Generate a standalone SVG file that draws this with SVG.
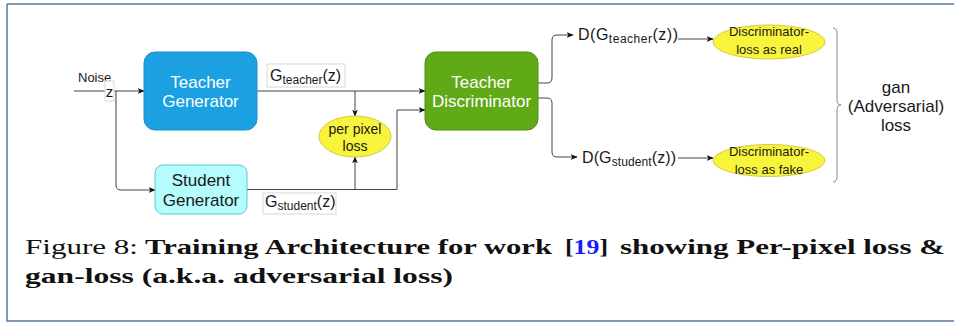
<svg xmlns="http://www.w3.org/2000/svg" width="954" height="324" viewBox="0 0 954 324">
<defs>
<marker id="arr" viewBox="0 0 10 10" refX="9" refY="5" markerWidth="7" markerHeight="7" orient="auto" markerUnits="userSpaceOnUse">
<path d="M0,1 L10,5 L0,9 L2.5,5 Z" fill="#111"/>
</marker>
<style>
.s{font-family:"Liberation Sans",Arial,sans-serif}
.w{fill:#ffffff;font-size:17px;text-anchor:middle}
.d{fill:#1a1a1a}
.c{fill:none;stroke:#444;stroke-width:1}
.lbl{fill:#ffffff;stroke:#d8d8d8;stroke-width:1}
.cap{font-family:"Liberation Serif","Times New Roman",serif;font-size:22px;fill:#111}
.b{font-weight:bold}
</style>
</defs>
<rect x="0" y="0" width="954" height="324" fill="#ffffff"/>
<path d="M7,4 H954 M7,4 V321 H954" fill="none" stroke="#56779a" stroke-width="1.5"/>

<g id="connectors">
<path class="c" d="M74,91 H144" marker-end="url(#arr)"/>
<path class="c" d="M116,91 V185 Q116,190 121,190 H155" marker-end="url(#arr)"/>
<path class="c" d="M257,91 H425" marker-end="url(#arr)"/>
<path class="c" d="M355,91 V116" marker-end="url(#arr)"/>
<path class="c" d="M247,189.5 H397 V110 H425" marker-end="url(#arr)"/>
<path class="c" d="M355,189.5 V157" marker-end="url(#arr)"/>
<path class="c" d="M538,83 H547 Q552,83 552,78 V40 Q552,35 557,35 H573" marker-end="url(#arr)"/>
<path class="c" d="M538,98 H547 Q552,98 552,103 V152 Q552,157 557,157 H577" marker-end="url(#arr)"/>
<path class="c" d="M678,39 H713" marker-end="url(#arr)"/>
<path class="c" d="M678,158 H713" marker-end="url(#arr)"/>
</g>

<g id="noise">
<text class="s d" x="78" y="82" font-size="13" fill="#333">Noise</text>
<rect class="lbl" x="105" y="81" width="9" height="20"/>
<text class="s d" x="109.5" y="97" font-size="15" text-anchor="middle">z</text>
</g>

<g id="teacher-generator">
<rect x="144" y="52" width="113" height="78" rx="11" fill="#1ba1e2" stroke="#1a8fca"/>
<text class="s w" x="200.5" y="88">Teacher</text>
<text class="s w" x="200.5" y="107">Generator</text>
</g>

<g id="student-generator">
<rect x="155" y="165" width="92" height="49" rx="8" fill="#b4fcfd" stroke="#63c8cc"/>
<text class="s d" x="201" y="186" font-size="17" text-anchor="middle">Student</text>
<text class="s d" x="201" y="206" font-size="17" text-anchor="middle">Generator</text>
</g>

<g id="teacher-discriminator">
<rect x="425" y="52" width="113" height="78" rx="11" fill="#60a917" stroke="#4d8f10"/>
<text class="s w" x="481.5" y="88">Teacher</text>
<text class="s w" x="481.5" y="107">Discriminator</text>
</g>

<g id="gteacher-label">
<rect class="lbl" x="267" y="64" width="78" height="23"/>
<text class="s d" x="270" y="81" font-size="16">G<tspan font-size="12" dy="3">teacher</tspan><tspan dy="-3">(z)</tspan></text>
</g>

<g id="gstudent-label">
<rect class="lbl" x="263" y="193" width="73" height="21"/>
<text class="s d" x="265" y="207" font-size="16">G<tspan font-size="12" dy="3">student</tspan><tspan dy="-3">(z)</tspan></text>
</g>

<g id="per-pixel-loss">
<ellipse cx="355" cy="136.5" rx="36" ry="20.5" fill="#f8f43c" stroke="#d6c94a"/>
<text class="s d" x="355" y="134" font-size="14" text-anchor="middle" fill="#333">per pixel</text>
<text class="s d" x="355" y="151" font-size="14" text-anchor="middle" fill="#333">loss</text>
</g>

<g id="d-teacher">
<text class="s d" x="578" y="40" font-size="16" textLength="100">D(G<tspan font-size="12" dy="3">teacher</tspan><tspan dy="-3">(z))</tspan></text>
</g>

<g id="d-student">
<text class="s d" x="582" y="163" font-size="16" textLength="94">D(G<tspan font-size="12" dy="3">student</tspan><tspan dy="-3">(z))</tspan></text>
</g>

<g id="loss-real">
<ellipse cx="769" cy="42" rx="56" ry="17" fill="#f8f43c" stroke="#d6c94a"/>
<text class="s d" x="769" y="36" font-size="13" text-anchor="middle" fill="#333">Discriminator-</text>
<text class="s d" x="769" y="54" font-size="13" text-anchor="middle" fill="#333">loss as real</text>
</g>

<g id="loss-fake">
<ellipse cx="769" cy="160.5" rx="56" ry="16" fill="#f8f43c" stroke="#d6c94a"/>
<text class="s d" x="769" y="156" font-size="13" text-anchor="middle" fill="#333">Discriminator-</text>
<text class="s d" x="769" y="174" font-size="13" text-anchor="middle" fill="#333">loss as fake</text>
</g>

<g id="gan-loss">
<path d="M833,28 Q837,28 837,33 V100 Q837,105 841,105 Q837,105 837,110 V177 Q837,182 833,182" fill="none" stroke="#888" stroke-width="1"/>
<text class="s d" x="896" y="93" font-size="17" text-anchor="middle">gan</text>
<text class="s d" x="896" y="112" font-size="17" text-anchor="middle">(Adversarial)</text>
<text class="s d" x="896" y="131" font-size="17" text-anchor="middle">loss</text>
</g>

<g id="caption">
<text class="cap" x="25" y="254" textLength="113" lengthAdjust="spacingAndGlyphs">Figure 8:</text>
<text class="cap b" x="145" y="254" textLength="407" lengthAdjust="spacingAndGlyphs">Training Architecture for work</text>
<text class="cap b" x="565" y="254" textLength="43" lengthAdjust="spacingAndGlyphs">[<tspan fill="#1a1aff">19</tspan>]</text>
<text class="cap b" x="620" y="254" textLength="325" lengthAdjust="spacingAndGlyphs">showing Per-pixel loss &amp;</text>
<text class="cap b" x="25" y="283" textLength="428" lengthAdjust="spacingAndGlyphs">gan-loss (a.k.a. adversarial loss)</text>
</g>
</svg>
